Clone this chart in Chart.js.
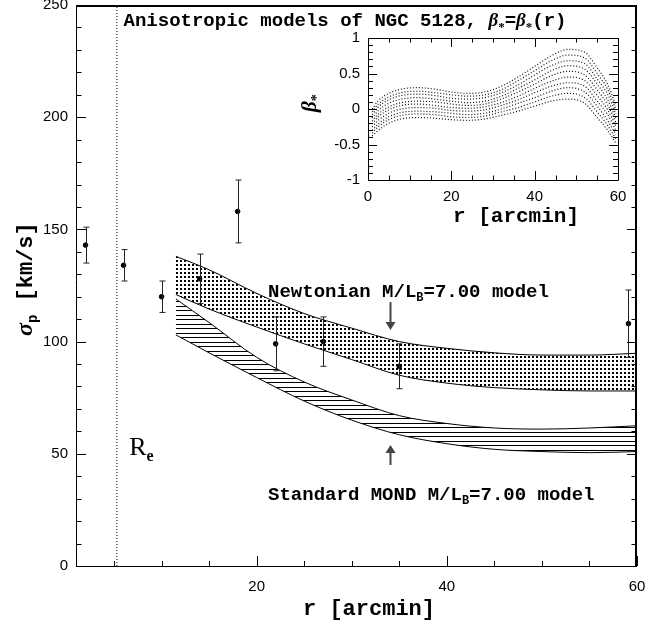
<!DOCTYPE html>
<html>
<head>
<meta charset="utf-8">
<script src="https://cdn.jsdelivr.net/npm/chart.js@4.4.0/dist/chart.umd.min.js"></script>
<style>
  html, body { margin: 0; padding: 0; background: #fff; }
  #wrap { position: relative; width: 647px; height: 626px; }
  #main { position: absolute; left: 0; top: 0; }
  #inset { position: absolute; left: 290px; top: 30px; }
</style>
</head>
<body>
<div id="wrap">
  <canvas id="main" width="647" height="626" style="width:647px;height:626px"></canvas>
  <canvas id="inset" width="340" height="205" style="width:340px;height:205px"></canvas>
</div>
<script>
"use strict";

// observed dispersion profile
const obsR     = [2.0, 6.0, 10.0, 14.0, 18.0, 22.0, 27.0, 35.0, 59.1];
const obsSigma = [143, 134, 120, 128, 158, 99, 100, 89, 108];
const obsErr   = [8, 7, 7, 11, 14, 12, 11, 10, 15];

// model bands
const bandR        = [11.5, 15, 20, 25, 30, 35, 40, 45, 50, 55, 60];
const newtonUpper  = [138, 132, 121.5, 112.5, 106, 100, 97, 95, 94, 94, 94.8];
const newtonLower  = [121, 114.5, 106.5, 99, 92, 85, 81.5, 79.5, 78.5, 78, 78];
const mondUpper    = [119, 108.5, 93, 82, 74, 67, 63.5, 61.5, 61, 61.5, 62.5];
const mondLower    = [103, 95, 84, 73.5, 65, 58.5, 54.5, 52, 51, 50.5, 51];

const reRadius = 5.3;

// inset: anisotropy profiles
const inR   = [1, 2.5, 5, 8, 12, 16, 20, 24, 28, 32, 36, 40, 44, 48, 52, 55, 57.5, 59.5];
const beta1 = [0.00, 0.12, 0.22, 0.28, 0.30, 0.28, 0.24, 0.22, 0.24, 0.32, 0.45, 0.60, 0.75, 0.84, 0.80, 0.58, 0.35, 0.05];
const beta2 = [-0.04, 0.07, 0.17, 0.23, 0.25, 0.23, 0.20, 0.18, 0.20, 0.27, 0.40, 0.54, 0.68, 0.76, 0.72, 0.50, 0.28, -0.01];
const beta3 = [-0.08, 0.03, 0.13, 0.19, 0.21, 0.19, 0.15, 0.14, 0.16, 0.23, 0.34, 0.48, 0.61, 0.68, 0.64, 0.42, 0.21, -0.07];
const beta4 = [-0.13, -0.02, 0.08, 0.14, 0.16, 0.14, 0.11, 0.09, 0.11, 0.18, 0.29, 0.41, 0.54, 0.61, 0.56, 0.35, 0.13, -0.13];
const beta5 = [-0.17, -0.07, 0.03, 0.09, 0.11, 0.10, 0.07, 0.05, 0.07, 0.14, 0.24, 0.35, 0.47, 0.53, 0.48, 0.27, 0.06, -0.19];
const beta6 = [-0.21, -0.11, -0.01, 0.05, 0.07, 0.05, 0.02, 0.01, 0.03, 0.09, 0.18, 0.29, 0.39, 0.45, 0.40, 0.19, -0.01, -0.24];
const beta7 = [-0.25, -0.16, -0.06, 0.00, 0.02, 0.01, -0.02, -0.03, -0.01, 0.05, 0.13, 0.23, 0.32, 0.37, 0.32, 0.11, -0.08, -0.30];
const beta8 = [-0.30, -0.21, -0.11, -0.05, -0.03, -0.04, -0.06, -0.08, -0.06, 0.00, 0.08, 0.16, 0.25, 0.30, 0.24, 0.04, -0.16, -0.36];
const beta9 = [-0.34, -0.25, -0.15, -0.09, -0.07, -0.08, -0.11, -0.12, -0.10, -0.04, 0.02, 0.10, 0.18, 0.22, 0.16, -0.04, -0.23, -0.42];
const beta10 = [-0.38, -0.30, -0.20, -0.14, -0.12, -0.13, -0.15, -0.16, -0.14, -0.09, -0.03, 0.04, 0.11, 0.14, 0.08, -0.12, -0.30, -0.48];

const MONO = '"Liberation Mono", "DejaVu Sans Mono", monospace';
const SERIF = '"Liberation Serif", "DejaVu Serif", serif';
const SANS = '"Liberation Sans", Arial, sans-serif';

function pts(xs, ys) { return xs.map((x, i) => ({ x: x, y: ys[i] })); }

function drawRich(ctx, x, y, parts) {
  let cx = x;
  parts.forEach(p => {
    ctx.font = p.font;
    ctx.fillText(p.t, cx, y + (p.dy || 0));
    cx += ctx.measureText(p.t).width;
  });
}

// keep the plot box exactly where the layout puts it
function fitX(h) { return s => { s.height = h; s.paddingLeft = 0; s.paddingRight = 0; }; }
function fitY(w) { return s => { s.width = w; s.paddingTop = 0; s.paddingBottom = 0; }; }

const mainCtx = document.getElementById('main').getContext('2d');

// dotted fill for newtonian band
function dotPattern() {
  const c = document.createElement('canvas');
  c.width = 4; c.height = 4;
  const g = c.getContext('2d');
  g.fillStyle = '#000';
  g.fillRect(0, 0, 2, 2);
  return mainCtx.createPattern(c, 'repeat');
}
// horizontal hatch for MOND band
function hatchPattern() {
  const c = document.createElement('canvas');
  c.width = 8; c.height = 9;
  const g = c.getContext('2d');
  g.fillStyle = '#000';
  g.fillRect(0, 0, 8, 1);
  g.fillRect(0, 4, 8, 1);
  return mainCtx.createPattern(c, 'repeat');
}

const errorBars = {
  id: 'errorBars',
  afterDatasetsDraw(chart) {
    const ctx = chart.ctx, xs = chart.scales.x, ys = chart.scales.y;
    ctx.save();
    ctx.strokeStyle = '#222';
    ctx.lineWidth = 1;
    obsR.forEach((r, i) => {
      const px = Math.round(xs.getPixelForValue(r)) + 0.5;
      const top = ys.getPixelForValue(obsSigma[i] + obsErr[i]);
      const bot = ys.getPixelForValue(obsSigma[i] - obsErr[i]);
      ctx.beginPath();
      ctx.moveTo(px, top); ctx.lineTo(px, bot);
      ctx.moveTo(px - 3, top); ctx.lineTo(px + 3, top);
      ctx.moveTo(px - 3, bot); ctx.lineTo(px + 3, bot);
      ctx.stroke();
    });
    ctx.restore();
  }
};

const mainFrame = {
  id: 'mainFrame',
  afterDraw(chart) {
    const ctx = chart.ctx, a = chart.chartArea, xs = chart.scales.x, ys = chart.scales.y;
    ctx.save();
    ctx.strokeStyle = '#000';
    ctx.lineWidth = 1;
    ctx.beginPath();
    ys.ticks.forEach(t => {
      const y = Math.round(ys.getPixelForValue(t.value)) + 0.5;
      const len = t.value % 50 === 0 ? 10 : 5.5;
      ctx.moveTo(a.left, y); ctx.lineTo(a.left + len, y);
      ctx.moveTo(a.right, y); ctx.lineTo(a.right - len, y);
    });
    xs.ticks.forEach(t => {
      if (t.value % 5 !== 0) return;
      const x = Math.round(xs.getPixelForValue(t.value)) + 0.5;
      const len = t.value % 20 === 0 ? 10 : 5;
      ctx.moveTo(x, a.bottom); ctx.lineTo(x, a.bottom - len);
    });
    ctx.stroke();
    // frame
    ctx.beginPath();
    ctx.moveTo(a.left + 0.5, a.top); ctx.lineTo(a.left + 0.5, a.bottom + 0.5); ctx.lineTo(a.right, a.bottom + 0.5);
    ctx.stroke();
    ctx.lineWidth = 2;
    ctx.beginPath();
    ctx.moveTo(a.left, a.top + 1); ctx.lineTo(a.right - 1, a.top + 1); ctx.lineTo(a.right - 1, a.bottom + 1);
    ctx.stroke();

    // annotations
    ctx.fillStyle = '#000';
    ctx.textBaseline = 'alphabetic';
    ctx.textAlign = 'left';
    const X = v => xs.getPixelForValue(v), Y = v => ys.getPixelForValue(v);
    const big = 'bold 19px ' + MONO, sub = 'bold 12px ' + MONO;
    const beta = 'bold italic 19px ' + SERIF, star = 'bold 13px ' + SERIF;
    drawRich(ctx, X(6.0), Y(240.6), [
      { t: 'Anisotropic models of NGC 5128, ', font: big },
      { t: '\u03b2', font: beta }, { t: '*', font: star, dy: 5 },
      { t: '=', font: big },
      { t: '\u03b2', font: beta }, { t: '*', font: star, dy: 5 },
      { t: '(r)', font: big }
    ]);
    drawRich(ctx, X(21.2), Y(119.9), [
      { t: 'Newtonian M/L', font: big }, { t: 'B', font: sub, dy: 4 }, { t: '=7.00 model', font: big }
    ]);
    drawRich(ctx, X(21.2), Y(29.4), [
      { t: 'Standard MOND M/L', font: big }, { t: 'B', font: sub, dy: 4 }, { t: '=7.00 model', font: big }
    ]);
    drawRich(ctx, X(6.6), Y(49.5), [
      { t: 'R', font: '26px ' + SERIF }, { t: 'e', font: 'bold 16px ' + SERIF, dy: 6 }
    ]);

    // arrows
    ctx.strokeStyle = '#444'; ctx.fillStyle = '#444'; ctx.lineWidth = 2;
    const ax = Math.round(X(34)) + 0.5;
    const d1 = Y(117.6), d2 = Y(105.2);
    ctx.beginPath(); ctx.moveTo(ax, d1); ctx.lineTo(ax, d2 - 6); ctx.stroke();
    ctx.beginPath(); ctx.moveTo(ax - 5, d2 - 8); ctx.lineTo(ax + 5, d2 - 8); ctx.lineTo(ax, d2); ctx.closePath(); ctx.fill();
    const u1 = Y(45), u2 = Y(53.9);
    ctx.beginPath(); ctx.moveTo(ax, u1); ctx.lineTo(ax, u2 + 6); ctx.stroke();
    ctx.beginPath(); ctx.moveTo(ax - 5, u2 + 8); ctx.lineTo(ax + 5, u2 + 8); ctx.lineTo(ax, u2); ctx.closePath(); ctx.fill();

    // axis titles
    ctx.fillStyle = '#000';
    const title = 'bold 22px ' + MONO;
    drawRich(ctx, 303, 615, [{ t: 'r [arcmin]', font: title }]);
    ctx.translate(32, 336);
    ctx.rotate(-Math.PI / 2);
    drawRich(ctx, 0, 0, [
      { t: '\u03c3', font: 'bold italic 24px ' + SERIF },
      { t: 'p', font: 'bold 14px ' + MONO, dy: 5 },
      { t: ' [km/s]', font: title }
    ]);
    ctx.restore();
  }
};

new Chart(document.getElementById('main'), {
  type: 'scatter',
  data: {
    datasets: [
      { type: 'line', data: pts(bandR, newtonUpper), borderColor: '#000', borderWidth: 1,
        pointRadius: 0, cubicInterpolationMode: 'monotone', fill: '+1', backgroundColor: dotPattern() },
      { type: 'line', data: pts(bandR, newtonLower), borderColor: '#000', borderWidth: 1,
        pointRadius: 0, cubicInterpolationMode: 'monotone', fill: false },
      { type: 'line', data: pts(bandR, mondUpper), borderColor: '#000', borderWidth: 1,
        pointRadius: 0, cubicInterpolationMode: 'monotone', fill: '+1', backgroundColor: hatchPattern() },
      { type: 'line', data: pts(bandR, mondLower), borderColor: '#000', borderWidth: 1,
        pointRadius: 0, cubicInterpolationMode: 'monotone', fill: false },
      { type: 'line', data: [{ x: reRadius, y: 0 }, { x: reRadius, y: 250 }], borderColor: '#000',
        borderWidth: 1, borderDash: [1, 2], pointRadius: 0, fill: false },
      { data: pts(obsR, obsSigma), backgroundColor: '#000', borderColor: '#000', pointRadius: 2.3 }
    ]
  },
  options: {
    responsive: false,
    animation: false,
    layout: { padding: { top: 5, right: 10, left: 0, bottom: 0 } },
    plugins: { legend: { display: false }, tooltip: { enabled: false } },
    scales: {
      x: {
        type: 'linear', min: 1, max: 60,
        afterFit: fitX(60),
        grid: { display: false, drawTicks: false },
        border: { display: false },
        ticks: {
          stepSize: 5, autoSkip: false, maxRotation: 0, padding: 12, color: '#000',
          font: { family: SANS, size: 15 },
          callback: v => (v % 20 === 0 ? String(v) : '')
        }
      },
      y: {
        min: 0, max: 250,
        afterFit: fitY(76),
        grid: { display: false, drawTicks: false },
        border: { display: false },
        ticks: {
          stepSize: 10, autoSkip: false, padding: 8, color: '#000',
          font: { family: SANS, size: 15 },
          callback: v => (v % 50 === 0 ? String(v) : '')
        }
      }
    }
  },
  plugins: [errorBars, mainFrame]
});

// ---------- inset ----------
const insetFrame = {
  id: 'insetFrame',
  afterDraw(chart) {
    const ctx = chart.ctx, a = chart.chartArea, xs = chart.scales.x, ys = chart.scales.y;
    ctx.save();
    ctx.strokeStyle = '#000';
    ctx.lineWidth = 1;
    ctx.beginPath();
    ctx.rect(Math.round(a.left) + 0.5, Math.round(a.top) + 0.5,
             Math.round(a.right - a.left), Math.round(a.bottom - a.top));
    ys.ticks.forEach(t => {
      const k = Math.round(t.value * 10);
      const y = Math.round(ys.getPixelForValue(t.value)) + 0.5;
      const len = k % 5 === 0 ? 9 : 5;
      ctx.moveTo(a.left, y); ctx.lineTo(a.left + len, y);
      ctx.moveTo(a.right, y); ctx.lineTo(a.right - len, y);
    });
    xs.ticks.forEach(t => {
      const x = Math.round(xs.getPixelForValue(t.value)) + 0.5;
      const len = t.value % 20 === 0 ? 9 : 4.5;
      ctx.moveTo(x, a.bottom); ctx.lineTo(x, a.bottom - len);
      ctx.moveTo(x, a.top); ctx.lineTo(x, a.top + len);
    });
    ctx.stroke();

    ctx.fillStyle = '#000';
    ctx.textAlign = 'left';
    ctx.textBaseline = 'alphabetic';
    drawRich(ctx, 163, 192, [{ t: 'r [arcmin]', font: 'bold 21px ' + MONO }]);
    ctx.translate(26, 82);
    ctx.rotate(-Math.PI / 2);
    drawRich(ctx, 0, 0, [
      { t: '\u03b2', font: 'bold italic 21px ' + SERIF },
      { t: '*', font: 'bold 14px ' + SERIF, dy: 5 }
    ]);
    ctx.restore();
  }
};

const betaSets = [beta1, beta2, beta3, beta4, beta5, beta6, beta7, beta8, beta9, beta10];

new Chart(document.getElementById('inset'), {
  type: 'scatter',
  data: {
    datasets: betaSets.map(b => ({
      type: 'line', data: pts(inR, b), borderColor: '#111', borderWidth: 1.2,
      borderDash: [1, 2], pointRadius: 0, cubicInterpolationMode: 'monotone', fill: false
    }))
  },
  options: {
    responsive: false,
    animation: false,
    layout: { padding: { top: 8, right: 12, left: 0, bottom: 0 } },
    plugins: { legend: { display: false }, tooltip: { enabled: false } },
    scales: {
      x: {
        type: 'linear', min: 0, max: 60,
        afterFit: fitX(55),
        grid: { display: false, drawTicks: false },
        border: { display: false },
        ticks: {
          stepSize: 5, autoSkip: false, maxRotation: 0, padding: 8, color: '#000',
          font: { family: SANS, size: 15 },
          callback: v => (v % 20 === 0 ? String(v) : '')
        }
      },
      y: {
        min: -1, max: 1,
        afterFit: fitY(78),
        grid: { display: false, drawTicks: false },
        border: { display: false },
        ticks: {
          stepSize: 0.1, autoSkip: false, padding: 8, color: '#000',
          font: { family: SANS, size: 15 },
          callback: v => { const k = Math.round(v * 10); return k % 5 === 0 ? String(k / 10) : ''; }
        }
      }
    }
  },
  plugins: [insetFrame]
});
</script>
</body>
</html>
